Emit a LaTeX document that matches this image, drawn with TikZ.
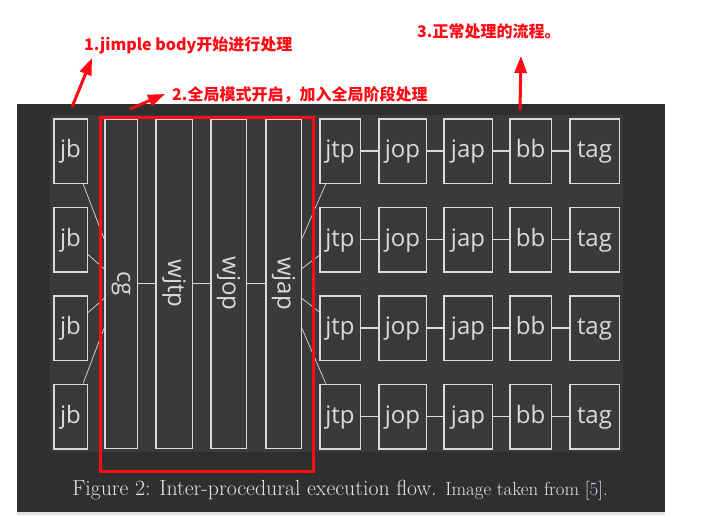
\documentclass[tikz,border=0pt]{standalone}
\usepackage{fontspec}
\usepackage{graphicx}
\usepackage{tikz}
\usetikzlibrary{arrows.meta}
\newfontfamily\boxfont{Open Sans}
\newfontfamily\notefont{Noto Sans CJK SC}
\definecolor{bgdark}{HTML}{2F2F2F}
\definecolor{bgpanel}{HTML}{3A3A3A}
\definecolor{boxline}{HTML}{DADADA}
\definecolor{notered}{HTML}{FF0A14}
\definecolor{captext}{HTML}{E4E4E4}
\definecolor{citeblue}{HTML}{C4D4F0}

\begin{document}
\begin{tikzpicture}[x=1pt,y=-1pt,
  every node/.style={font=\boxfont\fontsize{24}{26}\selectfont,text=boxline},
  stage/.style={rectangle,draw=boxline,line width=1.5pt,fill=bgpanel,inner sep=0pt,
    minimum height=64.5pt,text height=18.5pt,text depth=5.5pt},
  phase/.style={rectangle,draw=boxline,line width=1.5pt,fill=bgpanel,inner sep=0pt,
    minimum height=329.5pt},
  link/.style={draw=boxline,line width=1.2pt},
  fan/.style={draw=boxline,line width=0.7pt},
  note/.style={font=\notefont\bfseries\fontsize{16}{18}\selectfont,text=notered,
    anchor=west,inner sep=0pt},
  notearrow/.style={draw=notered,line width=3pt,-{Triangle[length=17pt,width=12pt]}}]
\useasboundingbox[fill=white] (0,0) rectangle (706,520);
\fill[bgdark] (17,104) rectangle (665,512);
\fill[black!12] (17,512) rectangle (665,515);
\fill[bgpanel] (50,115) rectangle (623,452);

% whole-program phases
\node[phase,minimum width=32.5pt] (cg) at (121,283.5) {\rotatebox{-90}{cg}};
\node[phase,minimum width=36.5pt] (wjtp) at (174,283.5) {\rotatebox{-90}{wjtp}};
\node[phase,minimum width=35.5pt] (wjop) at (228.5,283.5) {\rotatebox{-90}{wjop}};
\node[phase,minimum width=35.5pt] (wjap) at (283.5,283.5) {\rotatebox{-90}{wjap}};
\draw[link] (cg)--(wjtp)--(wjop)--(wjap);

% one row per body
\foreach \i/\y/\o in {1/151/45,2/239.5/15,3/328/-15,4/416.5/-45} {
  \node[stage,minimum width=33.5pt] (jb\i) at (70.5,\y) {jb};
  \node[stage,minimum width=40.5pt] (jtp\i) at (340,\y) {jtp};
  \node[stage,minimum width=47.5pt] (jop\i) at (402.5,\y) {jop};
  \node[stage,minimum width=48.5pt] (jap\i) at (468,\y) {jap};
  \node[stage,minimum width=41.5pt] (bb\i) at (530.5,\y) {bb};
  \node[stage,minimum width=49.5pt] (tag\i) at (594.5,\y) {tag};
  \draw[link] (jtp\i)--(jop\i)--(jap\i)--(bb\i)--(tag\i);
  \draw[fan] (jb\i) -- ([yshift=\o pt]cg.west);
  \draw[fan] ([yshift=\o pt]wjap.east) -- (jtp\i);
}

\node[font=\rmfamily\fontsize{21.8}{25}\selectfont,text=captext] (caption) at (340,490)
  {Figure 2: Inter-procedural execution flow. {\fontsize{18.9}{22}\selectfont Image taken from [{\color{citeblue}5}].}};

% annotations
\draw[notered,line width=3pt] (100.5,117.5) rectangle (313.5,471.5);
\node[note] (n1) at (84,45) {1.jimple body开始进行处理};
\node[note] (n2) at (172,95) {2.全局模式开启，加入全局阶段处理};
\node[note] (n3) at (417,31) {3.正常处理的流程。};
\coordinate (a1) at (72,107);
\coordinate (b1) at (92,58);
\coordinate (a2) at (130,109);
\coordinate (b2) at (165,94);
\coordinate (a3) at (520,110);
\coordinate (b3) at (521,56);
\draw[notearrow] (a1) -- (b1);
\draw[notearrow] (a2) -- (b2);
\draw[notearrow] (a3) -- (b3);
\end{tikzpicture}
\end{document}
